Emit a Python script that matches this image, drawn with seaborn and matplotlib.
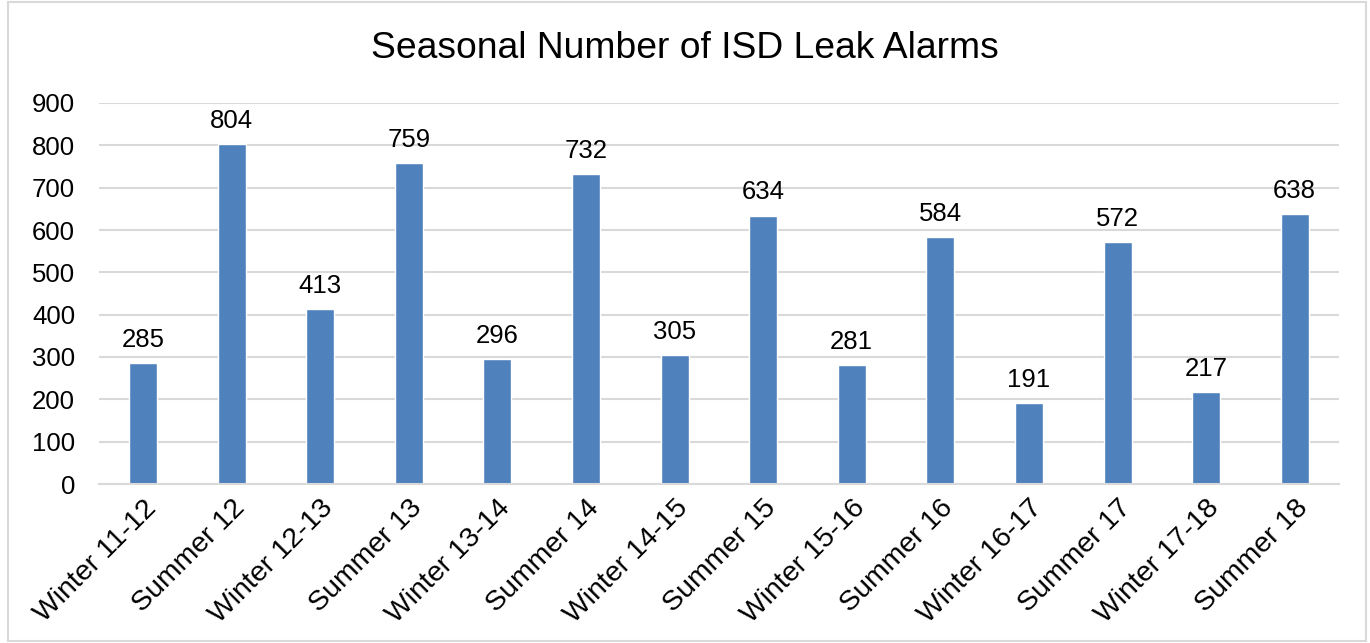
import pandas as pd
import seaborn as sns
import matplotlib.pyplot as plt
from matplotlib.patches import Rectangle

seasons = ['Winter 11-12', 'Summer 12', 'Winter 12-13', 'Summer 13',
           'Winter 13-14', 'Summer 14', 'Winter 14-15', 'Summer 15',
           'Winter 15-16', 'Summer 16', 'Winter 16-17', 'Summer 17',
           'Winter 17-18', 'Summer 18']
alarms = [285, 804, 413, 759, 296, 732, 305, 634, 281, 584, 191, 572, 217, 638]

df = pd.DataFrame({'season': seasons, 'alarms': alarms})

sns.set_theme(style='white', rc={'text.color': 'black'})
plt.rcParams['font.family'] = ['Liberation Sans', 'DejaVu Sans']

fig = plt.figure(figsize=(13.7, 6.43), dpi=100)
ax = fig.add_axes([98.7 / 1370, 1 - 484 / 643, (1339 - 98.7) / 1370, (484 - 103) / 643])

sns.barplot(data=df, x='season', y='alarms', color='#4F81BD', saturation=1,
            width=0.316, ax=ax)

ax.set_ylim(0, 900)
ax.set_yticks(range(0, 901, 100))
ax.set_xlim(-0.5, len(seasons) - 0.5)
ax.yaxis.grid(True, color='#D9D9D9', linewidth=1.5)
ax.set_axisbelow(True)
for s in ['top', 'right', 'left']:
    ax.spines[s].set_visible(False)
ax.spines['bottom'].set_color('#D9D9D9')
ax.spines['bottom'].set_linewidth(1.5)
ax.tick_params(axis='y', length=0, labelsize=18.5, labelcolor='black', pad=17)
ax.tick_params(axis='x', length=0, labelsize=20.5, labelcolor='black', pad=8)
ax.set_xlabel('')
ax.set_ylabel('')
plt.setp(ax.get_xticklabels(), rotation=45, ha='right', rotation_mode='anchor')

for c in ax.containers:
    ax.bar_label(c, fontsize=18.5, padding=8, color='black')

fig.text(0.5, 1 - 48 / 643, 'Seasonal Number of ISD Leak Alarms',
         ha='center', va='center', fontsize=26.8, color='black')

fig.patches.append(Rectangle((8 / 1370, 2 / 643), 1358 / 1370, 639 / 643,
                             transform=fig.transFigure, fill=False,
                             edgecolor='#D9D9D9', linewidth=1.5))

plt.savefig('out.png', dpi=100)
